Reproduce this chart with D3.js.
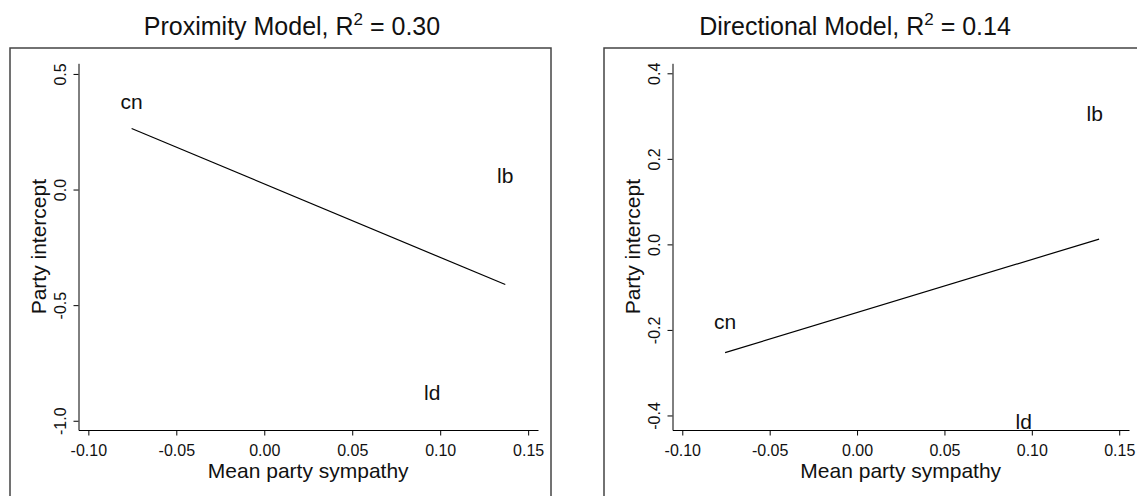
<!DOCTYPE html>
<html>
<head>
<meta charset="utf-8">
<script src="https://cdnjs.cloudflare.com/ajax/libs/d3/7.8.5/d3.min.js"></script>
<style>
  html, body { margin: 0; padding: 0; background: #ffffff; }
  svg { display: block; }
  text { font-family: "Liberation Sans", Arial, Helvetica, sans-serif; fill: #111; }
</style>
</head>
<body>
<svg id="chart" width="1137" height="496"></svg>
<script>
// ---- data ----
const panelTitles = ["Proximity Model", "Directional Model"];
const r2Values = ["0.30", "0.14"];
const partyLabels = ["cn", "lb", "ld"];

const proxSympathy = [-0.0754, 0.137, 0.0955];
const proxIntercept = [0.378, 0.059, -0.879];
const dirSympathy = [-0.0755, 0.136, 0.0954];
const dirIntercept = [-0.180, 0.305, -0.415];

const proxFitX = [-0.0754, 0.137];
const proxFitY = [0.264, -0.411];
const dirFitX = [-0.0755, 0.1385];
const dirFitY = [-0.253, 0.0124];

const xTicks = [-0.10, -0.05, 0.00, 0.05, 0.10, 0.15];
const proxYTicks = [-1.0, -0.5, 0.0, 0.5];
const dirYTicks = [-0.4, -0.2, 0.0, 0.2, 0.4];

const xLabel = "Mean party sympathy";
const yLabel = "Party intercept";

// ---- layout ----
const svg = d3.select("#chart");
const loc = d3.formatLocale({decimal: ".", thousands: ",", grouping: [3], currency: ["", ""], minus: "-"});
const fmt2 = loc.format(".2f");
const fmt1 = loc.format(".1f");

const panels = [
  {
    title: panelTitles[0], r2: r2Values[0],
    xs: proxSympathy, ys: proxIntercept, fitX: proxFitX, fitY: proxFitY,
    yTicks: proxYTicks,
    xDomain: [-0.1056, 0.1556], yDomain: [-1.04, 0.546],
    box: {x: 10, y: 48, w: 541},
    plot: {l: 78.5, r: 538, t: 63.3, b: 430},
    titleX: 292
  },
  {
    title: panelTitles[1], r2: r2Values[1],
    xs: dirSympathy, ys: dirIntercept, fitX: dirFitX, fitY: dirFitY,
    yTicks: dirYTicks,
    xDomain: [-0.1056, 0.1556], yDomain: [-0.434, 0.4234],
    box: {x: 604, y: 48, w: 600},
    plot: {l: 672.5, r: 1129, t: 63.3, b: 430},
    titleX: 855
  }
];

panels.forEach(p => {
  const g = svg.append("g");

  // outer box
  g.append("rect")
    .attr("x", p.box.x).attr("y", p.box.y)
    .attr("width", p.box.w).attr("height", 520)
    .attr("fill", "none").attr("stroke", "#444").attr("stroke-width", 1.5);

  // title with superscript
  const t = g.append("text")
    .attr("x", p.titleX).attr("y", 34.5)
    .attr("text-anchor", "middle")
    .style("font-size", "25px");
  t.append("tspan").text(p.title + ", R");
  t.append("tspan").attr("dy", -10).style("font-size", "17px").text("2");
  t.append("tspan").attr("dy", 10).text(" = " + p.r2);

  const x = d3.scaleLinear().domain(p.xDomain).range([p.plot.l, p.plot.r]);
  const y = d3.scaleLinear().domain(p.yDomain).range([p.plot.b, p.plot.t]);

  // x axis
  const xa = g.append("g")
    .attr("transform", `translate(0,${p.plot.b})`)
    .call(d3.axisBottom(x).tickValues(xTicks).tickFormat(fmt2)
      .tickSize(5.5).tickSizeOuter(0).tickPadding(0));
  xa.select(".domain").attr("stroke", "#000").attr("stroke-width", 1);
  xa.selectAll(".tick line").attr("stroke", "#000");
  xa.selectAll(".tick text")
    .attr("y", 25.5).attr("dy", 0)
    .style("font-size", "16px").style("font-family", "Liberation Sans, Arial, sans-serif")
    .attr("fill", "#111");

  // y axis
  const ya = g.append("g")
    .attr("transform", `translate(${p.plot.l},0)`)
    .call(d3.axisLeft(y).tickValues(p.yTicks).tickFormat(fmt1)
      .tickSize(5).tickSizeOuter(0).tickPadding(0));
  ya.select(".domain").attr("stroke", "#000").attr("stroke-width", 1);
  ya.selectAll(".tick line").attr("stroke", "#000");
  ya.selectAll(".tick text")
    .attr("transform", "rotate(-90)")
    .attr("x", 0).attr("y", -13).attr("dy", 0)
    .attr("text-anchor", "middle")
    .style("font-size", "16px").style("font-family", "Liberation Sans, Arial, sans-serif")
    .attr("fill", "#111");

  // axis titles
  g.append("text")
    .attr("x", (p.plot.l + p.plot.r) / 2).attr("y", 478)
    .attr("text-anchor", "middle")
    .style("font-size", "21px")
    .text(xLabel);
  g.append("text")
    .attr("transform", `translate(${p.plot.l - 33},${(p.plot.t + p.plot.b) / 2}) rotate(-90)`)
    .attr("text-anchor", "middle")
    .style("font-size", "21px")
    .text(yLabel);

  // fitted line
  const lineData = p.fitX.map((v, i) => [v, p.fitY[i]]);
  g.append("path")
    .datum(lineData)
    .attr("d", d3.line().x(d => x(d[0])).y(d => y(d[1])))
    .attr("fill", "none").attr("stroke", "#000").attr("stroke-width", 1.2);

  // party labels
  g.selectAll("text.party")
    .data(partyLabels.map((lab, i) => ({lab, xv: p.xs[i], yv: p.ys[i]})))
    .enter().append("text")
    .attr("class", "party")
    .attr("x", d => x(d.xv)).attr("y", d => y(d.yv))
    .attr("dy", "0.35em")
    .attr("text-anchor", "middle")
    .style("font-size", "21px")
    .text(d => d.lab);
});
</script>
</body>
</html>
